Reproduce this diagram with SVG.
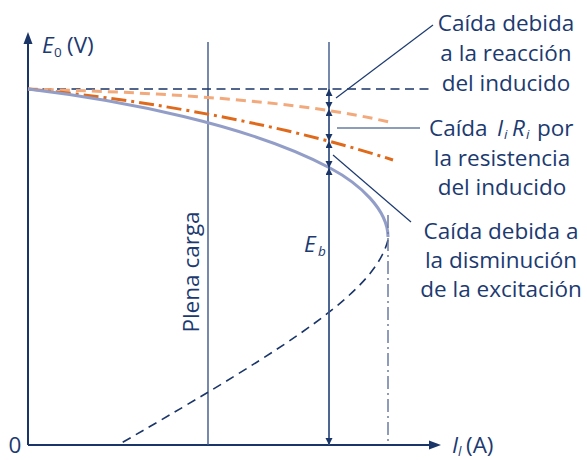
<svg xmlns="http://www.w3.org/2000/svg" width="587" height="460" viewBox="0 0 587 460">
<defs>
<style>
text{font-family:"Open Sans","Noto Sans","Liberation Sans",sans-serif;fill:#1c3a70;font-size:22.5px}
.it{font-style:italic}
.sub{font-size:13.5px}
.axis{stroke:#1a3568;stroke-width:2;fill:none}
.vline{stroke:#3d5789;stroke-width:1.4;fill:none}
.lead{stroke:#1c3a70;stroke-width:1.2;fill:none}
.dim{stroke:#3d5789;stroke-width:1.4;fill:none;marker-start:url(#ah);marker-end:url(#ah)}
</style>
<marker id="ah" markerUnits="userSpaceOnUse" markerWidth="8" markerHeight="8" refX="7" refY="3.5" orient="auto-start-reverse">
<path d="M0,0 L7,3.5 L0,7 z" fill="#1a3568"/>
</marker>
</defs>
<rect width="587" height="460" fill="#ffffff"/>
<g id="axes">
<line class="axis" x1="28" y1="445" x2="28" y2="42"/>
<path d="M28,32 L32.5,44 L23.5,44 z" fill="#1a3568"/>
<line class="axis" x1="28" y1="445" x2="431" y2="445"/>
<path d="M441,445 L429,449.5 L429,440.5 z" fill="#1a3568"/>
<text x="15" y="453" text-anchor="middle">0</text>
<text x="42" y="53"><tspan class="it">E</tspan><tspan class="sub" x="54" y="57">0</tspan><tspan x="67" y="53">(V)</tspan></text>
<text x="452" y="453"><tspan class="it">I</tspan><tspan class="sub it" x="458" y="456">l</tspan><tspan x="466" y="453">(A)</tspan></text>
</g>
<g id="plena-carga">
<line class="vline" x1="208" y1="42" x2="208" y2="445"/>
<text transform="translate(199,272) rotate(-90)" text-anchor="middle">Plena carga</text>
</g>
<g id="curves">
<line x1="28" y1="89" x2="430" y2="89" stroke="#1a3568" stroke-width="1.6" stroke-dasharray="9,5.5"/>
<path d="M28,89 C150,92 300,100 393,123" fill="none" stroke="#f2aa7c" stroke-width="3" stroke-dasharray="10,6"/>
<path d="M28,89 C120,97 270,120 393,160" fill="none" stroke="#e06a1c" stroke-width="3" stroke-dasharray="15,5,3,5"/>
<path d="M28,89 C120,100 250,125 330,168 C360,184 388,210 388,237" fill="none" stroke="#929ec8" stroke-width="3"/>
<path d="M388,240 C375,290 300,340 118,445" fill="none" stroke="#1a3568" stroke-width="1.6" stroke-dasharray="9,6"/>
<line x1="388" y1="215" x2="388" y2="445" stroke="#6b7ba3" stroke-width="1.5" stroke-dasharray="13,4,2,4"/>
</g>
<g id="dimensions">
<line class="vline" x1="329" y1="42" x2="329" y2="445"/>
<line class="dim" x1="329" y1="89" x2="329" y2="109"/>
<line class="dim" x1="329" y1="109" x2="329" y2="141"/>
<line class="dim" x1="329" y1="141" x2="329" y2="168"/>
<line class="dim" x1="329" y1="168" x2="329" y2="445"/>
<text x="304" y="252"><tspan class="it">E</tspan><tspan class="sub it" x="318" y="256">b</tspan></text>
</g>
<g id="leaders">
<line class="lead" x1="336" y1="98" x2="433" y2="25"/>
<line class="lead" x1="337" y1="128" x2="420" y2="128"/>
<line class="lead" x1="333" y1="155" x2="411" y2="222"/>
</g>
<g id="label-reaccion" text-anchor="middle">
<text x="506" y="31">Caída debida</text>
<text x="506" y="61">a la reacción</text>
<text x="506" y="91">del inducido</text>
</g>
<g id="label-resistencia">
<text x="429" y="136">Caída<tspan class="it" x="497">I</tspan><tspan class="sub it" x="504" y="139">i</tspan><tspan class="it" x="512" y="136">R</tspan><tspan class="sub it" x="526" y="139">i</tspan><tspan x="537" y="136">por</tspan></text>
<text x="502" y="166" text-anchor="middle">la resistencia</text>
<text x="502" y="195" text-anchor="middle">del inducido</text>
</g>
<g id="label-excitacion" text-anchor="middle">
<text x="501" y="239">Caída debida a</text>
<text x="501" y="268">la disminución</text>
<text x="501" y="297">de la excitación</text>
</g>
</svg>
